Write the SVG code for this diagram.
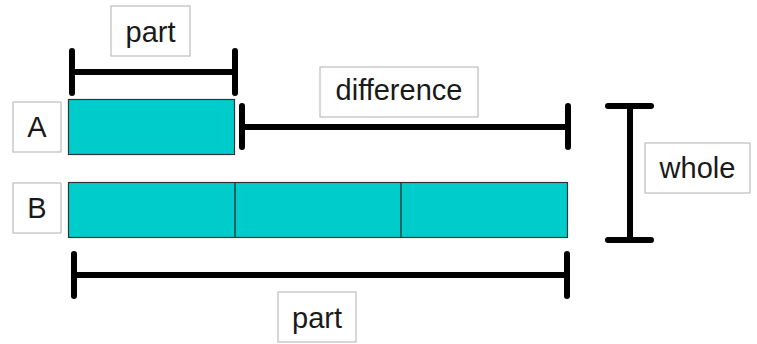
<svg xmlns="http://www.w3.org/2000/svg" width="757" height="344" viewBox="0 0 757 344">
  <style>
    .lbl { fill: #fff; stroke: #bdbdbd; stroke-width: 1.2; }
    .txt { font-family: "Liberation Sans", Arial, sans-serif; font-size: 29px; fill: #1a1a1a; text-anchor: middle; }
    .bar { fill: #00cccc; stroke: #333; stroke-width: 1.2; }
    .brk { stroke: #000; stroke-width: 6; stroke-linecap: round; fill: none; }
  </style>
  <rect width="757" height="344" fill="#fff"/>

  <!-- row labels -->
  <g id="label-A">
    <rect class="lbl" x="13" y="102" width="48" height="50"/>
    <text class="txt" x="37" y="137">A</text>
  </g>
  <g id="label-B">
    <rect class="lbl" x="13" y="183" width="48" height="50"/>
    <text class="txt" x="37" y="218">B</text>
  </g>

  <!-- bars -->
  <g id="bar-A">
    <rect class="bar" x="68.5" y="99.5" width="166" height="55"/>
  </g>
  <g id="bar-B">
    <rect class="bar" x="68.5" y="182.5" width="499" height="55"/>
    <line x1="235" y1="182.5" x2="235" y2="237.5" stroke="#222" stroke-width="1.2"/>
    <line x1="401" y1="182.5" x2="401" y2="237.5" stroke="#222" stroke-width="1.2"/>
  </g>

  <!-- measurement brackets -->
  <g id="connectors">
    <path class="brk" d="M72 51V93M72 72H235M235 51V93"/>
    <path class="brk" d="M242 106V147M242 127H568M568 106V147"/>
    <path class="brk" d="M608 106H651M630 106V240M608 240H651"/>
    <path class="brk" d="M74 254V296M74 275H567M567 254V296"/>
  </g>

  <!-- bracket labels -->
  <g id="label-part-top">
    <rect class="lbl" x="111" y="6" width="79" height="50"/>
    <text class="txt" x="150.5" y="42">part</text>
  </g>
  <g id="label-difference">
    <rect class="lbl" x="320" y="67" width="158" height="50"/>
    <text class="txt" x="399" y="100">difference</text>
  </g>
  <g id="label-whole">
    <rect class="lbl" x="645" y="143" width="105" height="50"/>
    <text class="txt" x="697.5" y="178">whole</text>
  </g>
  <g id="label-part-bottom">
    <rect class="lbl" x="278" y="292" width="78" height="50"/>
    <text class="txt" x="317" y="328">part</text>
  </g>
</svg>
